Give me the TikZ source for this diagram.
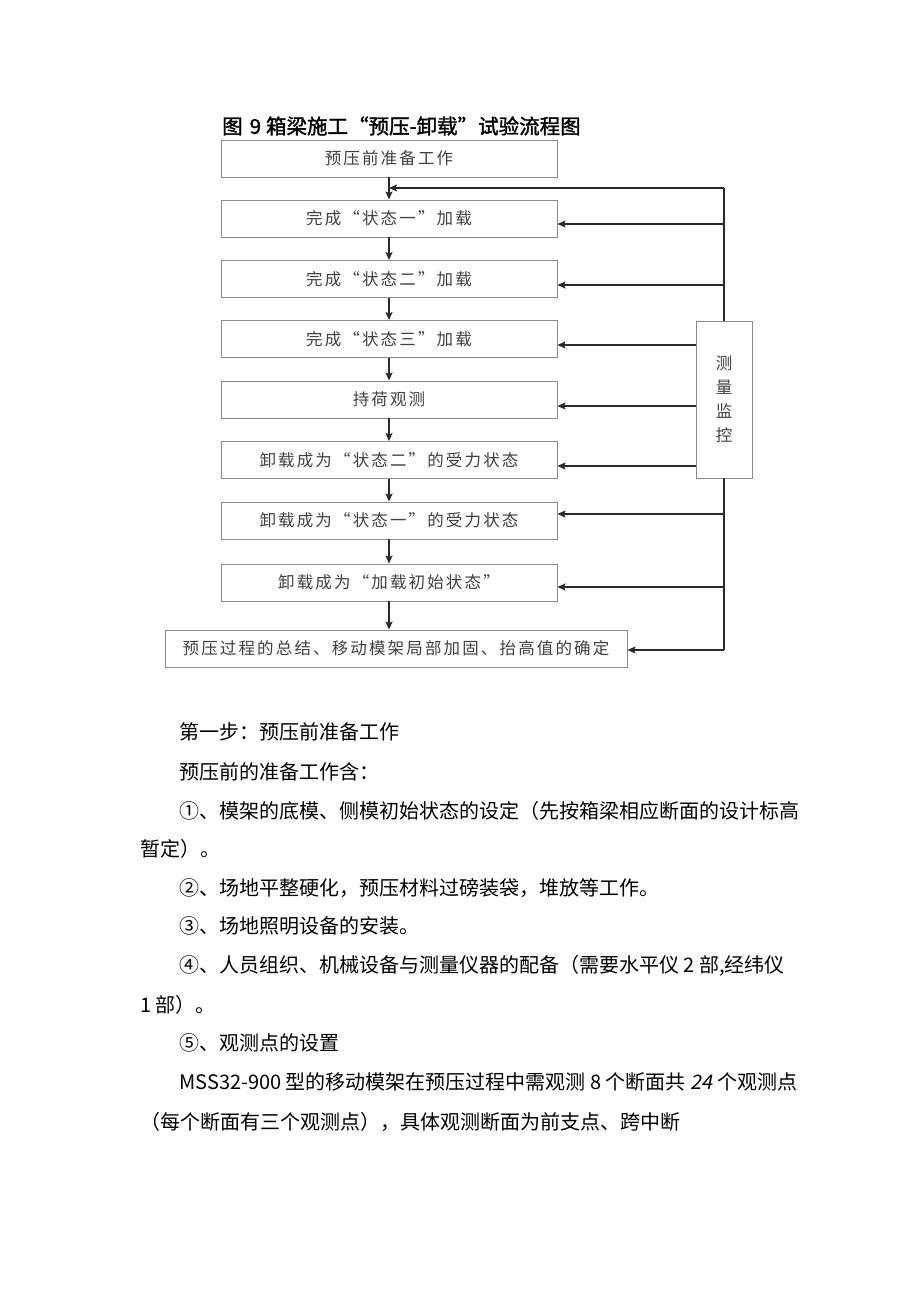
\documentclass[tikz,border=0pt]{standalone}
\usepackage{fontspec}
\usetikzlibrary{arrows.meta}
\setmainfont{Noto Sans CJK SC}
\newfontfamily\bxf{Noto Sans CJK SC}[LetterSpace=13]
\newfontfamily\ttlf{Noto Sans CJK SC}[FakeBold=1.5]
\newfontfamily\itf{Noto Sans CJK SC}[FakeSlant=0.2]
\newcommand\fwq[1]{{\addfontfeature{CharacterWidth=Full}#1}}
\definecolor{bordergray}{HTML}{8C8C8C}
\definecolor{boxtext}{HTML}{404040}
\definecolor{linecol}{HTML}{2A2A2A}
\tikzset{
  stepbox/.style={draw=bordergray, line width=0.9pt, minimum width=336pt, minimum height=37pt,
    inner sep=0pt, text=boxtext, font=\bxf\fontsize{16.5}{18}\selectfont},
  monbox/.style={draw=bordergray, line width=0.9pt, minimum width=56pt, minimum height=157pt,
    inner sep=0pt, text=boxtext, align=center, font=\fontsize{16.5}{24}\selectfont},
  arr/.style={draw=linecol, line width=1.5pt, -{Stealth[length=8pt,width=7pt,inset=1.5pt]}},
  ln/.style={draw=linecol, line width=1.5pt},
  body/.style={anchor=west, inner sep=0pt, font=\fontsize{20}{24}\selectfont, text=black},
}
\begin{document}
\begin{tikzpicture}[x=1pt,y=-1pt]
\path[use as bounding box, fill=white] (0,0) rectangle (920,1301);

\node[anchor=west, inner sep=0pt, font=\ttlf\fontsize{20.5}{22}\selectfont] (title) at (222,126) {图\hspace{7pt}9\hspace{5pt}箱梁施工\fwq{“}预压-卸载\fwq{”}试验流程图};

\node[stepbox] (b1) at (389,158.5) {预压前准备工作};
\node[stepbox] (b2) at (389,218.5) {完成“状态一”加载};
\node[stepbox] (b3) at (389,279) {完成“状态二”加载};
\node[stepbox] (b4) at (389,339) {完成“状态三”加载};
\node[stepbox] (b5) at (389,399.5) {持荷观测};
\node[stepbox] (b6) at (389,460) {卸载成为“状态二”的受力状态};
\node[stepbox] (b7) at (389,520.5) {卸载成为“状态一”的受力状态};
\node[stepbox] (b8) at (389,582.5) {卸载成为“加载初始状态”};
\node[stepbox, minimum width=462pt] (b9) at (396,648.5) {预压过程的总结、移动模架局部加固、抬高值的确定};
\node[monbox] (mon) at (724,399.5) {测\\量\\监\\控};

% main flow
\draw[arr] (b1) -- (b2);
\draw[arr] (b2) -- (b3);
\draw[arr] (b3) -- (b4);
\draw[arr] (b4) -- (b5);
\draw[arr] (b5) -- (b6);
\draw[arr] (b6) -- (b7);
\draw[arr] (b7) -- (b8);
\draw[arr] (b8.south) -- (b8.south |- b9.north);

% monitoring loop
\coordinate (vt) at (724,188);
\coordinate (vb) at (724,650);
\draw[ln] (mon.north) -- (vt);
\draw[ln] (mon.south) -- (vb);
\draw[arr] (vt) -- (vt -| b1.south);
\draw[arr] (vb) -- (vb -| b9.east);

\coordinate (a2) at ([yshift=-5.5pt]b2.east);
\coordinate (a3) at ([yshift=-6pt]b3.east);
\coordinate (a4) at ([yshift=-6pt]b4.east);
\coordinate (a5) at ([yshift=-6.5pt]b5.east);
\coordinate (a6) at ([yshift=-6pt]b6.east);
\coordinate (a7) at ([yshift=6.5pt]b7.east);
\coordinate (a8) at ([yshift=-4.5pt]b8.east);
\draw[arr] (a2 -| vt) -- (a2);
\draw[arr] (a3 -| vt) -- (a3);
\draw[arr] (a4 -| mon.west) -- (a4);
\draw[arr] (a5 -| mon.west) -- (a5);
\draw[arr] (a6 -| mon.west) -- (a6);
\draw[arr] (a7 -| vt) -- (a7);
\draw[arr] (a8 -| vt) -- (a8);

% body text
\node[body] (t1) at (179,732) {第一步：预压前准备工作};
\node[body] (t2) at (179,772) {预压前的准备工作含：};
\node[body] (t3) at (179,811) {①、模架的底模、侧模初始状态的设定（先按箱梁相应断面的设计标高};
\node[body] (t4) at (140,849) {暂定）。};
\node[body] (t5) at (179,888) {②、场地平整硬化，预压材料过磅装袋，堆放等工作。};
\node[body] (t6) at (179,926) {③、场地照明设备的安装。};
\node[body] (t7) at (179,966) {④、人员组织、机械设备与测量仪器的配备（需要水平仪 2 部,经纬仪};
\node[body] (t8) at (140,1005) {1 部）。};
\node[body] (t9) at (179,1043) {⑤、观测点的设置};
\node[body] (t10) at (179,1082) {MSS32-900 型的移动模架在预压过程中需观测 8 个断面共 {\itf 24} 个观测点};
\node[body] (t11) at (140,1122) {（每个断面有三个观测点），具体观测断面为前支点、跨中断};
\end{tikzpicture}
\end{document}
